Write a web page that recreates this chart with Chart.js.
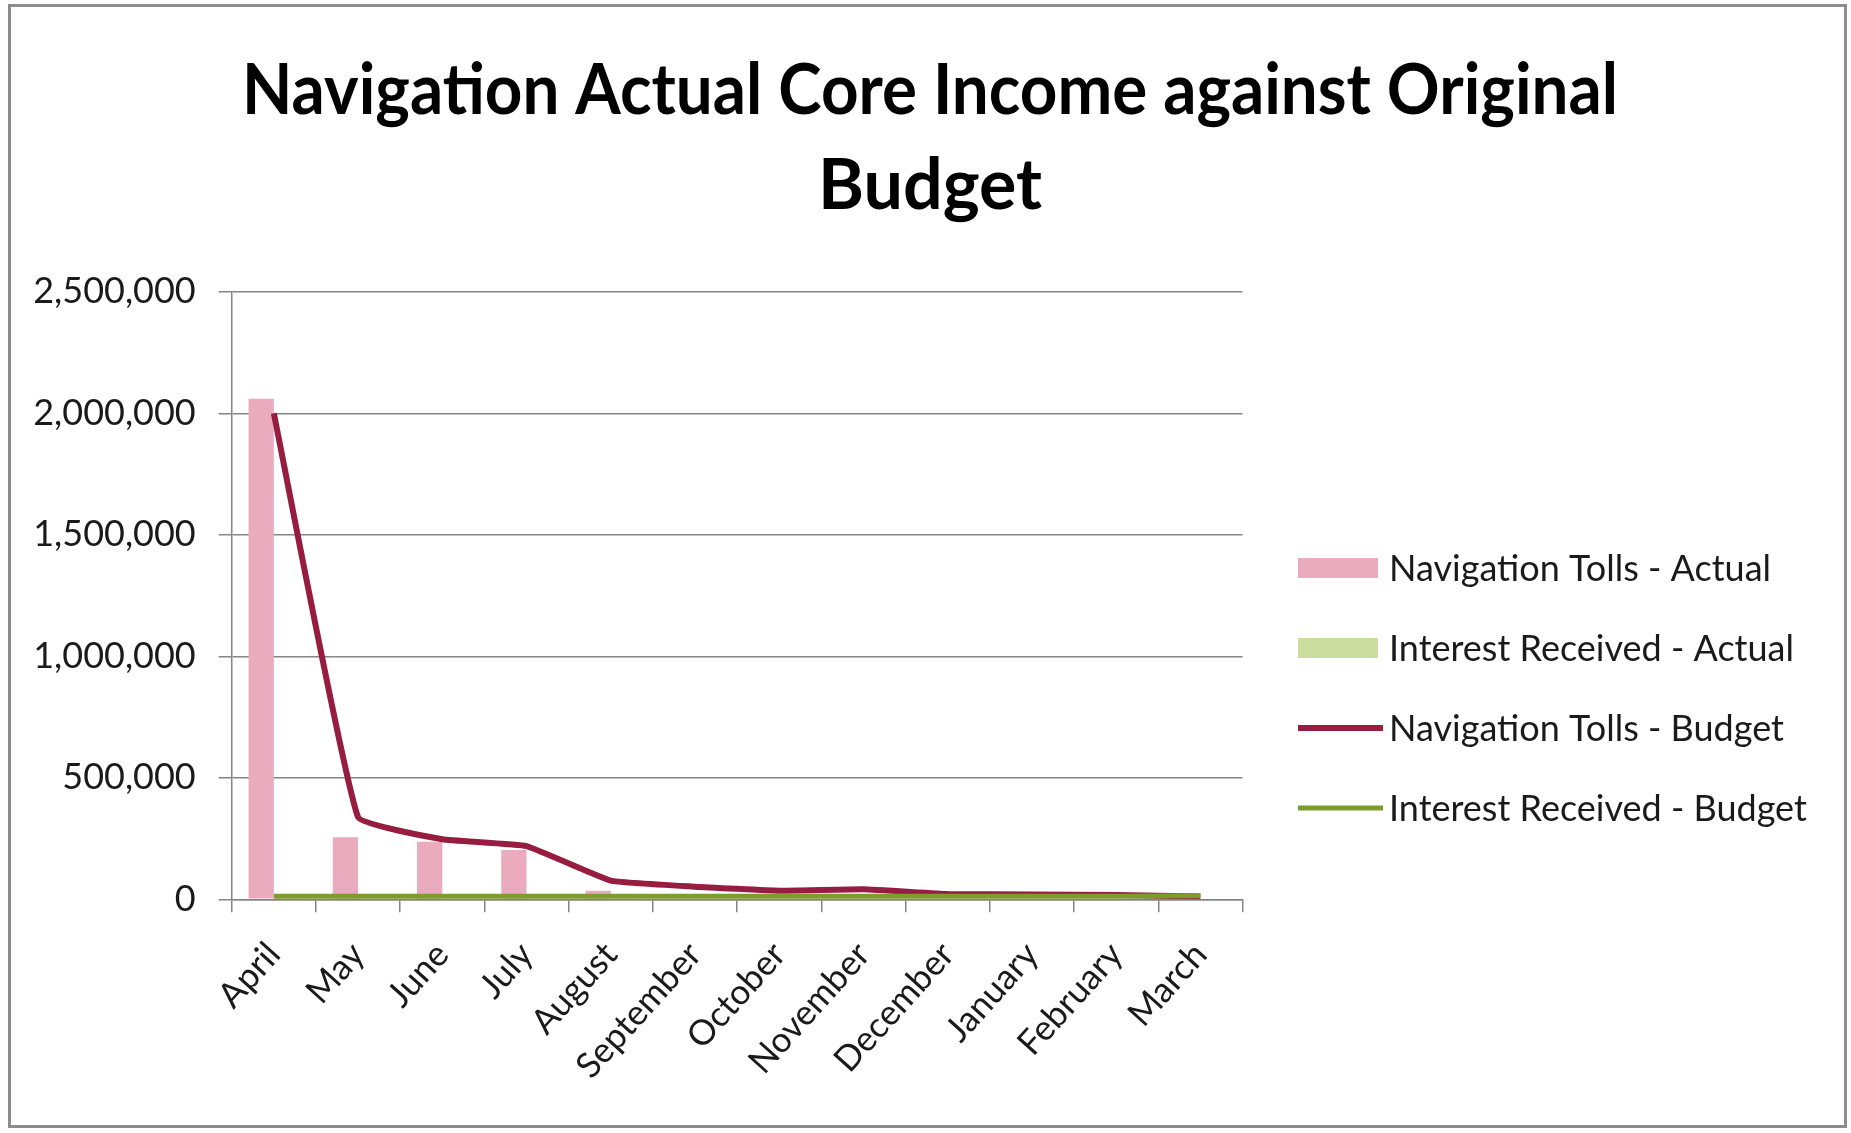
<!DOCTYPE html>
<html>
<head>
<meta charset="utf-8">
<title>Navigation Actual Core Income against Original Budget</title>
<script src="https://cdn.jsdelivr.net/npm/chart.js@4.4.1/dist/chart.umd.min.js"></script>
<style>
  html, body { margin: 0; padding: 0; background: #ffffff; }
  #wrap { position: relative; width: 1851px; height: 1133px; overflow: hidden; }
  #chart { position: absolute; left: 0; top: 0; }
  #frame {
    position: absolute; left: 8px; top: 4px; right: 4px; bottom: 5px;
    border: 3px solid #8c8c8c; pointer-events: none;
  }
</style>
</head>
<body>
<div id="wrap">
  <canvas id="chart" width="1851" height="1133"></canvas>
  <div id="frame"></div>
</div>
<script>
// Financial year months
const months = ['April', 'May', 'June', 'July', 'August', 'September',
                'October', 'November', 'December', 'January', 'February', 'March'];

// Income by month (GBP)
const navTollsActual  = [2060000, 255000, 237000, 203000, 35000, null, null, null, null, null, null, null];
const interestActual  = [4000, 3500, 3800, 3600, 3900, null, null, null, null, null, null, null];
const navTollsBudget  = [2000000, 338000, 247000, 219000, 77000, 52000, 35000, 41000, 22000, 20000, 18000, 12000];
const interestBudget  = [13000, 13000, 13000, 13000, 13000, 13000, 13000, 13000, 13000, 13000, 13000, 15000];

// Value axis ticks
const yTicks = [0, 500000, 1000000, 1500000, 2000000, 2500000];

const seriesLabels = ['Navigation Tolls - Actual', 'Interest Received - Actual',
                      'Navigation Tolls - Budget', 'Interest Received - Budget'];

const FONT = 'Lato, "Open Sans", "DejaVu Sans", sans-serif';
const GRID = '#858585';

// Title spans the whole chart frame rather than just the plot column
const titleSpan = {
  id: 'titleSpan',
  afterLayout(chart, args, o) {
    const t = chart.titleBlock;
    if (!t) return;
    t.left = o.left;
    t.right = o.right;
    t.width = o.right - o.left;
  }
};

// Legend drawn at the right of the plot, one row per series
const sideLegend = {
  id: 'sideLegend',
  afterDraw(chart, args, o) {
    const ctx = chart.ctx;
    ctx.save();
    ctx.font = `${o.size}px ${FONT}`;
    ctx.textBaseline = 'alphabetic';
    ctx.textAlign = 'left';
    chart.data.datasets.forEach((ds, i) => {
      const cy = o.top + i * o.spacing;
      if (ds.type === 'line') {
        ctx.strokeStyle = ds.borderColor;
        ctx.lineWidth = ds.borderWidth;
        ctx.beginPath();
        ctx.moveTo(o.left, cy);
        ctx.lineTo(o.left + o.lineLen, cy);
        ctx.stroke();
      } else {
        ctx.fillStyle = ds.backgroundColor;
        ctx.fillRect(o.left, cy - o.boxH / 2, o.boxW, o.boxH);
      }
      ctx.fillStyle = o.color;
      ctx.fillText(ds.label, o.textLeft, cy + o.baselineShift);
    });
    ctx.restore();
  }
};

new Chart(document.getElementById('chart'), {
  type: 'bar',
  data: {
    labels: months,
    datasets: [
      {
        label: seriesLabels[0], data: navTollsActual,
        backgroundColor: '#e9abbd', borderWidth: 0, order: 2,
        categoryPercentage: 0.6, barPercentage: 1.0
      },
      {
        label: seriesLabels[1], data: interestActual,
        backgroundColor: '#cadc9e', borderWidth: 0, order: 3,
        categoryPercentage: 0.6, barPercentage: 1.0
      },
      {
        type: 'line', label: seriesLabels[2], data: navTollsBudget,
        borderColor: '#961c40', backgroundColor: '#961c40', borderWidth: 6,
        pointRadius: 0, tension: 0.1, order: 1
      },
      {
        type: 'line', label: seriesLabels[3], data: interestBudget,
        borderColor: '#7d9c2c', backgroundColor: '#7d9c2c', borderWidth: 5,
        pointRadius: 0, tension: 0, order: 0
      }
    ]
  },
  options: {
    responsive: false,
    animation: false,
    devicePixelRatio: 1,
    layout: { padding: { left: 0, top: 0, right: 608.5, bottom: 0 } },
    plugins: {
      legend: { display: false },
      tooltip: { enabled: false },
      title: {
        display: true,
        text: ['Navigation Actual Core Income against Original', 'Budget'],
        color: '#000000',
        font: { family: FONT, size: 70, weight: 'bold', lineHeight: 1.37 },
        padding: { top: 43, bottom: 57 },
        fullSize: true
      },
      titleSpan: { left: 242, right: 1618 },
      sideLegend: {
        left: 1298, top: 568, spacing: 80, boxW: 80, boxH: 20, lineLen: 85,
        textLeft: 1389, size: 36, baselineShift: 13, color: '#1a1a1a'
      }
    },
    scales: {
      x: {
        offset: true,
        grid: {
          display: true, drawOnChartArea: false, drawTicks: true,
          tickLength: 13, color: GRID, lineWidth: 1.5, offset: true
        },
        border: { display: true, color: GRID, width: 1.5 },
        ticks: {
          color: '#1a1a1a', font: { family: FONT, size: 35 },
          minRotation: 48, maxRotation: 48, padding: 22, autoSkip: false
        },
        afterFit(scale) { scale.height = 233.7; }
      },
      y: {
        min: 0, max: 2500000,
        afterBuildTicks(scale) { scale.ticks = yTicks.map(v => ({ value: v })); },
        grid: { color: GRID, lineWidth: 1.5, drawTicks: true, tickLength: 13 },
        border: { display: true, color: GRID, width: 1.5 },
        ticks: {
          color: '#1a1a1a', font: { family: FONT, size: 36 }, padding: 23,
          callback: v => Number(v).toLocaleString('en-US')
        },
        afterFit(scale) { scale.width = 231.7; }
      }
    }
  },
  plugins: [titleSpan, sideLegend]
});
</script>
</body>
</html>
